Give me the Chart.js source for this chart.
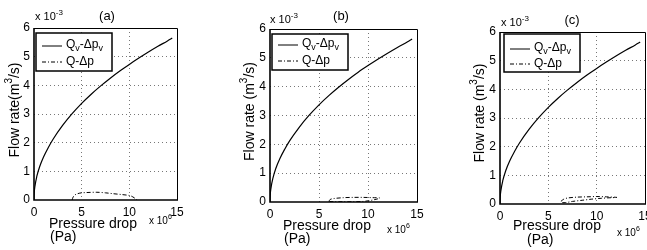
<!DOCTYPE html>
<html>
<head>
<meta charset="utf-8">
<script src="https://cdn.jsdelivr.net/npm/chart.js@4.4.0/dist/chart.umd.min.js"></script>
<style>
  html, body { margin: 0; padding: 0; background: #fff; overflow: hidden; width: 647px; height: 250px; }
  .panel { position: absolute; top: 0; height: 250px; }
</style>
</head>
<body>
<div class="panel" style="left:0;width:215px"><canvas id="chartA"></canvas></div>
<div class="panel" style="left:215px;width:215px"><canvas id="chartB"></canvas></div>
<div class="panel" style="left:430px;width:230px"><canvas id="chartC"></canvas></div>
<script>
// Qv-Δpv curve (same in all three panels), pressure in 1e6 Pa, flow in 1e-3 m3/s
const qvPressure = [0, 0.02, 0.1, 0.3, 0.6, 1, 1.5, 2, 3, 4, 5, 6, 7, 8, 9, 10, 11, 12, 13, 14, 14.5];
const qvFlow     = [0, 0.22, 0.48, 0.83, 1.17, 1.5, 1.83, 2.12, 2.6, 3.01, 3.37, 3.69, 3.98, 4.25, 4.5, 4.73, 4.95, 5.16, 5.36, 5.55, 5.65];

// Q-Δp loops
const qPressureA = [4.0, 4.1, 4.3, 4.8, 5.5, 6.6, 7.5, 8.3, 9.2, 10.1, 10.5, 10.8];
const qFlowA     = [0, 0.1, 0.18, 0.24, 0.26, 0.27, 0.25, 0.22, 0.19, 0.15, 0.08, 0];

const qPressureB = [6.0, 6.15, 6.5, 7.5, 8.5, 9.5, 10.5, 11.2, 11.0, 10.5, 10.0, 9.5, 8.5, 7.5, 6.5, 6.0];
const qFlowB     = [0.02, 0.09, 0.12, 0.15, 0.16, 0.16, 0.15, 0.14, 0.11, 0.07, 0.04, 0.02, 0.01, 0.01, 0.01, 0.02];

const qPressureC = [6.3, 6.6, 7.0, 8.0, 9.0, 10.0, 11.0, 12.1, 11.5, 10.5, 9.5, 8.5, 7.5, 6.8, 6.4, 6.3];
const qFlowC     = [0.09, 0.17, 0.21, 0.24, 0.25, 0.26, 0.25, 0.23, 0.22, 0.2, 0.17, 0.13, 0.09, 0.05, 0.05, 0.09];

const xTickValues = [0, 5, 10, 15];
const yTickValues = [0, 1, 2, 3, 4, 5, 6];
const panelNames = ['(a)', '(b)', '(c)'];
const yTitles = ['Flow rate(m', 'Flow rate (m', 'Flow rate (m'];

const FONT = '"Liberation Sans", Arial, Helvetica, sans-serif';

function toPoints(xs, ys) {
    return xs.map((x, i) => ({ x: x, y: ys[i] }));
}

// panel placement (page px) and text offsets relative to the plot area
const panels = [
    { id: 'chartA', left: 0, width: 215, area: { l: 34, r: 177, t: 28, b: 200 },
      qx: qPressureA, qy: qFlowA,
      exp: [1, -11], name: [73, -12], ytitle: [-19, -4], pd: [15, 24], pa: [16, 37], x6: [-28, 21],
      leg: [2, 5, 76, 38, 13, 29] },
    { id: 'chartB', left: 215, width: 215, area: { l: 270, r: 417, t: 29, b: 202 },
      qx: qPressureB, qy: qFlowB,
      exp: [0, -9], name: [71, -13], ytitle: [-20, -4], pd: [13, 24], pa: [14, 37], x6: [-30, 28],
      leg: [2, 5, 76, 36, 11, 27] },
    { id: 'chartC', left: 430, width: 230, area: { l: 500, r: 645, t: 32, b: 204 },
      qx: qPressureC, qy: qFlowC,
      exp: [1, -9], name: [72, -12], ytitle: [-20, -5], pd: [13, 22], pa: [27, 36], x6: [-28, 29],
      leg: [4, 2, 76, 38, 15, 30] }
];

// draws a run of text parts with optional super/subscripts, starting at x (left) and baseline-middle y
function drawRich(ctx, parts, x, y, size) {
    let cx = x;
    parts.forEach(p => {
        const s = p.sup || p.sub ? Math.round(size * 0.72) : size;
        ctx.font = s + 'px ' + FONT;
        const dy = p.sup ? -size * 0.42 : (p.sub ? size * 0.32 : 0);
        ctx.fillText(p.t, cx, y + dy);
        cx += ctx.measureText(p.t).width;
    });
    return cx - x;
}
function richWidth(ctx, parts, size) {
    let w = 0;
    parts.forEach(p => {
        const s = p.sup || p.sub ? Math.round(size * 0.72) : size;
        ctx.font = s + 'px ' + FONT;
        w += ctx.measureText(p.t).width;
    });
    return w;
}

const decorations = {
    id: 'decorations',
    afterDraw(chart, args, opts) {
        const ctx = chart.ctx;
        const a = chart.chartArea;
        const p = opts.panel;
        const idx = opts.index;
        ctx.save();
        ctx.fillStyle = '#000';
        ctx.strokeStyle = '#000';
        ctx.textBaseline = 'middle';
        ctx.textAlign = 'left';

        // axes box
        ctx.setLineDash([]);
        ctx.lineWidth = 1;
        ctx.beginPath();
        ctx.moveTo(a.left, a.top + 0.5); ctx.lineTo(a.right + 0.5, a.top + 0.5);
        ctx.lineTo(a.right + 0.5, a.bottom);
        ctx.stroke();
        ctx.lineWidth = 1.6;
        ctx.beginPath();
        ctx.moveTo(a.left, a.top); ctx.lineTo(a.left, a.bottom); ctx.lineTo(a.right + 1, a.bottom);
        ctx.stroke();

        // x 10^-3
        drawRich(ctx, [{ t: 'x 10' }, { t: '-3', sup: true }], a.left + p.exp[0], a.top + p.exp[1], 11);

        // panel name
        ctx.font = '13px ' + FONT;
        ctx.textAlign = 'center';
        ctx.fillText(panelNames[idx], a.left + p.name[0], a.top + p.name[1]);
        ctx.textAlign = 'left';

        // y title (rotated)
        const yParts = [{ t: yTitles[idx] }, { t: '3', sup: true }, { t: '/s)' }];
        const yw = richWidth(ctx, yParts, 14);
        ctx.save();
        ctx.translate(a.left + p.ytitle[0], (a.top + a.bottom) / 2 + p.ytitle[1]);
        ctx.rotate(-Math.PI / 2);
        drawRich(ctx, yParts, -yw / 2, 0, 14);
        ctx.restore();

        // x title
        ctx.font = '14px ' + FONT;
        ctx.fillText('Pressure drop', a.left + p.pd[0], a.bottom + p.pd[1]);
        ctx.fillText('(Pa)', a.left + p.pa[0], a.bottom + p.pa[1]);
        drawRich(ctx, [{ t: 'x 10' }, { t: '6', sup: true }], a.right + p.x6[0], a.bottom + p.x6[1], 10);

        // legend
        const L = p.leg;
        const lx = a.left + L[0], ly = a.top + L[1];
        ctx.fillStyle = '#fff';
        ctx.fillRect(lx, ly, L[2], L[3]);
        ctx.lineWidth = 1.5;
        ctx.strokeRect(lx, ly, L[2], L[3]);
        ctx.fillStyle = '#000';
        const sets = chart.data.datasets;
        [L[4], L[5]].forEach((off, i) => {
            const ds = sets[i];
            ctx.lineWidth = 1;
            ctx.setLineDash(ds.borderDash || []);
            ctx.beginPath();
            ctx.moveTo(lx + 6, ly + off); ctx.lineTo(lx + 26, ly + off);
            ctx.stroke();
            ctx.setLineDash([]);
        });
        drawRich(ctx, [{ t: 'Q' }, { t: 'v', sub: true }, { t: '-Δp' }, { t: 'v', sub: true }], lx + 30, ly + L[4] - 1, 12);
        drawRich(ctx, [{ t: 'Q-Δp' }], lx + 30, ly + L[5], 12);
        ctx.restore();
    }
};

panels.forEach((p, idx) => {
    const canvas = document.getElementById(p.id);
    new Chart(canvas.getContext('2d'), {
        type: 'scatter',
        data: {
            datasets: [{
                label: 'Qv-Δpv',
                data: toPoints(qvPressure, qvFlow),
                showLine: true,
                borderColor: '#000',
                borderWidth: 1.2,
                pointRadius: 0,
                cubicInterpolationMode: 'monotone'
            }, {
                label: 'Q-Δp',
                data: toPoints(p.qx, p.qy),
                showLine: true,
                borderColor: '#000',
                borderWidth: 1,
                borderDash: [4, 2, 1, 2],
                pointRadius: 0,
                tension: 0.3
            }]
        },
        options: {
            responsive: true,
            maintainAspectRatio: false,
            animation: false,
            events: [],
            layout: {
                padding: { left: 0, right: p.left + p.width - p.area.r, top: p.area.t, bottom: 0 }
            },
            plugins: {
                legend: { display: false },
                tooltip: { enabled: false },
                decorations: { panel: p, index: idx }
            },
            scales: {
                x: {
                    type: 'linear',
                    min: 0,
                    max: 15,
                    afterBuildTicks: s => { s.ticks = xTickValues.map(v => ({ value: v })); },
                    afterFit: s => { s.height = 250 - p.area.b; },
                    grid: {
                        color: c => (c.tick && (c.tick.value === 0 || c.tick.value === 15)) ? 'rgba(0,0,0,0)' : '#777',
                        drawTicks: false,
                        lineWidth: 1
                    },
                    border: { display: false, dash: [1, 3] },
                    ticks: { padding: 5, color: '#000', font: { family: FONT, size: 12 }, maxRotation: 0, autoSkip: false }
                },
                y: {
                    type: 'linear',
                    min: 0,
                    max: 6,
                    afterBuildTicks: s => { s.ticks = yTickValues.map(v => ({ value: v })); },
                    afterFit: s => { s.width = p.area.l - p.left; },
                    grid: {
                        color: c => (c.tick && (c.tick.value === 0 || c.tick.value === 6)) ? 'rgba(0,0,0,0)' : '#777',
                        drawTicks: false,
                        lineWidth: 1
                    },
                    border: { display: false, dash: [1, 3] },
                    ticks: { padding: 4, color: '#000', font: { family: FONT, size: 12 }, autoSkip: false }
                }
            }
        },
        plugins: [decorations]
    });
});
</script>
</body>
</html>
